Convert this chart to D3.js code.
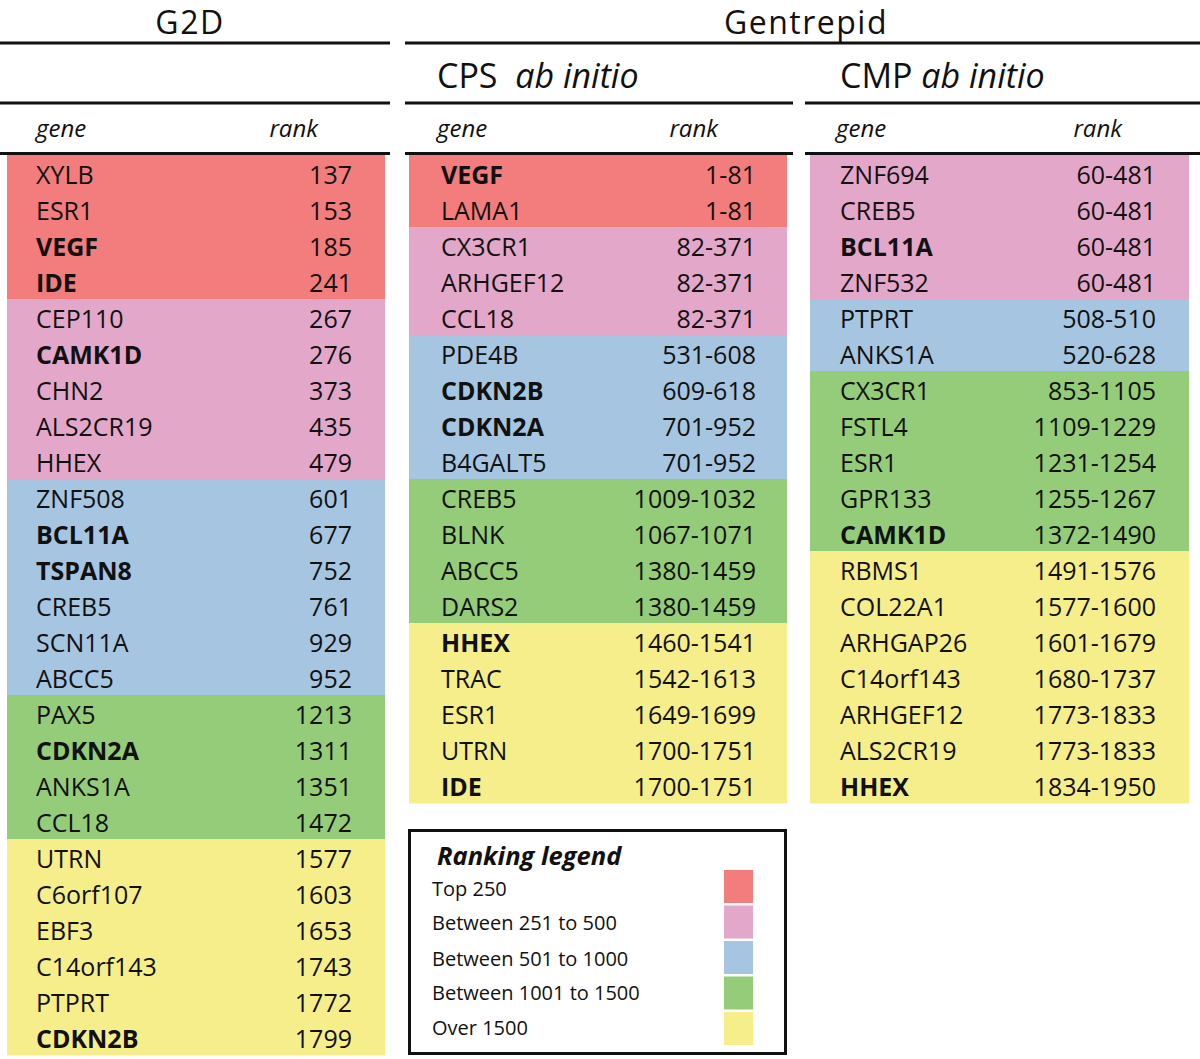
<!DOCTYPE html>
<html><head><meta charset="utf-8">
<script src="https://cdn.jsdelivr.net/npm/d3@7"></script>
<style>
html,body{margin:0;padding:0;background:#fff;}
svg{display:block;font-family:"Open Sans",sans-serif;}
</style></head>
<body>
<script>
// ---- data ----
const g2dGenes = ["XYLB","ESR1","VEGF","IDE","CEP110","CAMK1D","CHN2","ALS2CR19","HHEX","ZNF508","BCL11A","TSPAN8","CREB5","SCN11A","ABCC5","PAX5","CDKN2A","ANKS1A","CCL18","UTRN","C6orf107","EBF3","C14orf143","PTPRT","CDKN2B"];
const g2dRanks = ["137","153","185","241","267","276","373","435","479","601","677","752","761","929","952","1213","1311","1351","1472","1577","1603","1653","1743","1772","1799"];
const g2dBold = ["VEGF","IDE","CAMK1D","BCL11A","TSPAN8","CDKN2A","CDKN2B"];

const cpsGenes = ["VEGF","LAMA1","CX3CR1","ARHGEF12","CCL18","PDE4B","CDKN2B","CDKN2A","B4GALT5","CREB5","BLNK","ABCC5","DARS2","HHEX","TRAC","ESR1","UTRN","IDE"];
const cpsRanks = ["1-81","1-81","82-371","82-371","82-371","531-608","609-618","701-952","701-952","1009-1032","1067-1071","1380-1459","1380-1459","1460-1541","1542-1613","1649-1699","1700-1751","1700-1751"];
const cpsBold = ["VEGF","CDKN2B","CDKN2A","HHEX","IDE"];

const cmpGenes = ["ZNF694","CREB5","BCL11A","ZNF532","PTPRT","ANKS1A","CX3CR1","FSTL4","ESR1","GPR133","CAMK1D","RBMS1","COL22A1","ARHGAP26","C14orf143","ARHGEF12","ALS2CR19","HHEX"];
const cmpRanks = ["60-481","60-481","60-481","60-481","508-510","520-628","853-1105","1109-1229","1231-1254","1255-1267","1372-1490","1491-1576","1577-1600","1601-1679","1680-1737","1773-1833","1773-1833","1834-1950"];
const cmpBold = ["BCL11A","CAMK1D","HHEX"];

const legendLabels = ["Top 250","Between 251 to 500","Between 501 to 1000","Between 1001 to 1500","Over 1500"];
const legendColors = ["#f37c7c","#e3a7c9","#a5c5e1","#94cc79","#f5ee8b"];
const thresholds = [251, 501, 1001, 1501];

// ---- drawing ----
const W = 1200, H = 1059;
const svg = d3.select("body").append("svg").attr("width", W).attr("height", H);

const color = d3.scaleThreshold().domain(thresholds).range(legendColors);
const upper = r => +String(r).split("-").pop();

const rowH = 36, top0 = 155;
const maxRows = g2dGenes.length;
const y = d3.scaleBand().domain(d3.range(maxRows)).range([top0, top0 + rowH * maxRows]).padding(0);

const columns = [
  {genes: g2dGenes, ranks: g2dRanks, bold: g2dBold, lineX0: 0, lineX1: 390, bandX0: 7, bandX1: 385, geneX: 36, rankX: 352, headX: 36, rankHeadX: 318, title: null},
  {genes: cpsGenes, ranks: cpsRanks, bold: cpsBold, lineX0: 405, lineX1: 793, bandX0: 409, bandX1: 787, geneX: 441, rankX: 756, headX: 437, rankHeadX: 718, title: ["CPS\u00a0\u00a0", "ab initio"]},
  {genes: cmpGenes, ranks: cmpRanks, bold: cmpBold, lineX0: 805, lineX1: 1200, bandX0: 810, bandX1: 1189, geneX: 840, rankX: 1156, headX: 840, rankHeadX: 1122, title: ["CMP ", "ab initio"]}
];

const hline = (x0, x1, yy) => svg.append("line").attr("x1", x0).attr("x2", x1).attr("y1", yy).attr("y2", yy)
  .attr("stroke", "#111").attr("stroke-width", 3);

// top titles
svg.append("text").attr("x", 190).attr("y", 34).attr("text-anchor", "middle")
  .attr("font-size", 32).attr("letter-spacing", 1.5).attr("fill", "#111").text("G2D");
svg.append("text").attr("x", 806).attr("y", 34).attr("text-anchor", "middle")
  .attr("font-size", 32).attr("letter-spacing", 1.5).attr("fill", "#111").text("Gentrepid");
hline(0, 390, 43);
hline(405, 1200, 43);

columns.forEach(c => {
  hline(c.lineX0, c.lineX1, 103);
  hline(c.lineX0, c.lineX1, 153.5);
  if (c.title) {
    const t = svg.append("text").attr("x", c.headX).attr("y", 88).attr("font-size", 34).attr("fill", "#111");
    t.append("tspan").text(c.title[0]);
    t.append("tspan").attr("font-style", "italic").text(c.title[1]);
  }
  svg.append("text").attr("x", c.geneX - 4 + (c.title ? 0 : 4)).attr("y", 137).attr("font-size", 24)
    .attr("font-style", "italic").attr("fill", "#111").text("gene");
  svg.append("text").attr("x", c.rankHeadX).attr("y", 137).attr("font-size", 24).attr("text-anchor", "end")
    .attr("font-style", "italic").attr("fill", "#111").text("rank");

  const rows = c.genes.map((g, i) => ({gene: g, rank: c.ranks[i], i, bold: c.bold.includes(g)}));
  const grp = svg.append("g");
  grp.selectAll("rect").data(rows).join("rect")
    .attr("x", c.bandX0).attr("width", c.bandX1 - c.bandX0)
    .attr("y", d => y(d.i)).attr("height", y.bandwidth() + 0.5)
    .attr("fill", d => color(upper(d.rank)));
  grp.selectAll("text.g").data(rows).join("text").attr("class", "g")
    .attr("x", c.geneX).attr("y", d => y(d.i) + 29)
    .attr("font-size", 25).attr("font-weight", d => d.bold ? 700 : 400).attr("fill", "#111")
    .text(d => d.gene);
  grp.selectAll("text.r").data(rows).join("text").attr("class", "r")
    .attr("x", c.rankX).attr("y", d => y(d.i) + 29).attr("text-anchor", "end")
    .attr("font-size", 25).attr("fill", "#111")
    .text(d => d.rank);
});

// legend
const lg = svg.append("g");
lg.append("rect").attr("x", 409.5).attr("y", 830.5).attr("width", 376).attr("height", 223)
  .attr("fill", "#fff").attr("stroke", "#111").attr("stroke-width", 3);
lg.append("text").attr("x", 437).attr("y", 865).attr("font-size", 25.5).attr("font-weight", 700)
  .attr("font-style", "italic").attr("fill", "#111").text("Ranking legend");
const ly = d3.scaleBand().domain(d3.range(legendLabels.length)).range([870, 1045]).paddingInner(0.07);
lg.selectAll("rect.sw").data(legendColors).join("rect").attr("class", "sw")
  .attr("x", 724).attr("width", 29).attr("y", (d, i) => ly(i)).attr("height", ly.bandwidth())
  .attr("fill", d => d);
const textBase = [896, 930, 966, 1000, 1035];
lg.selectAll("text.lbl").data(legendLabels).join("text").attr("class", "lbl")
  .attr("x", 432).attr("y", (d, i) => textBase[i])
  .attr("font-size", 20).attr("fill", "#111").text(d => d);
</script>
</body></html>
